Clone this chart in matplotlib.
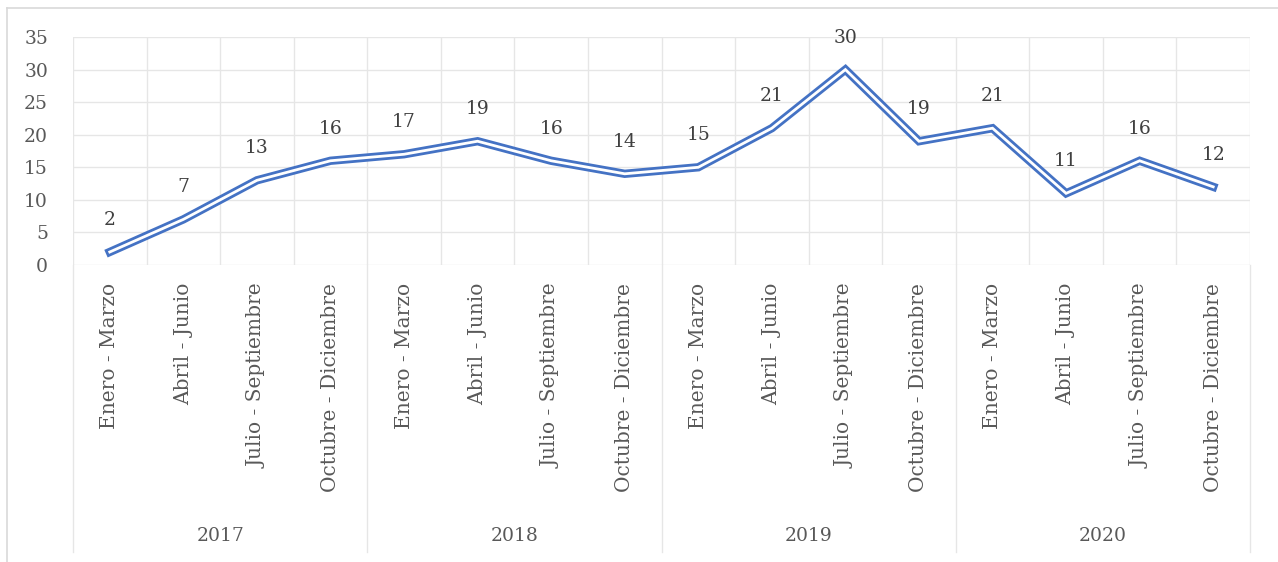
import matplotlib
matplotlib.use("Agg")
import matplotlib.pyplot as plt
from matplotlib.lines import Line2D

quarters = ["Enero - Marzo", "Abril - Junio", "Julio - Septiembre", "Octubre - Diciembre"]
years = ["2017", "2018", "2019", "2020"]
values = [2, 7, 13, 16, 17, 19, 16, 14, 15, 21, 30, 19, 21, 11, 16, 12]

W, H = 1278, 562
fig = plt.figure(figsize=(W / 100, H / 100), dpi=100)
plt.rcParams['font.family'] = ['DejaVu Serif']
FS = 13.5
FSC = 14.5

L, R, T, B = 73, 1250, 37, 265
ax = fig.add_axes([L / W, 1 - B / H, (R - L) / W, (B - T) / H])

n = len(values)
x = list(range(n))
ax.set_xlim(-0.5, n - 0.5)
ax.set_ylim(0, 35)

grid_c = "#e6e6e6"
for yv in range(0, 40, 5):
    ax.axhline(yv, color=grid_c, lw=1.0, zorder=0)
for i in range(n + 1):
    ax.axvline(i - 0.5, color=grid_c, lw=1.0, zorder=0)

for s in ax.spines.values():
    s.set_visible(False)

ax.set_yticks(range(0, 40, 5))
ax.tick_params(axis='y', length=0, labelsize=FS, labelcolor="#595959", pad=18)
ax.set_xticks([])

blue = "#4472C4"
ax.plot(x, values, color=blue, lw=6.0, solid_joinstyle='miter', zorder=3)
ax.plot(x, values, color="white", lw=2.0, solid_joinstyle='miter', zorder=4)

for xi, v in zip(x, values):
    ax.annotate(str(v), (xi, v), xytext=(0, 23), textcoords='offset points',
                ha='center', va='center', fontsize=FS, color="#404040", zorder=5)

# category labels
trans = ax.get_xaxis_transform()
for i in range(n):
    ax.text(i, 1 - (283 - T) / (B - T), quarters[i % 4], transform=trans,
            rotation=90, ha='center', va='top', fontsize=FSC, color="#595959")

# year labels and separators
for k, yr in enumerate(years):
    cx = 4 * k + 1.5
    ax.text(cx, 1 - (536 - T) / (B - T), yr, transform=trans,
            ha='center', va='center', fontsize=FS, color="#595959")
for k in range(len(years) + 1):
    xs = 4 * k - 0.5
    ax.plot([xs, xs], [0, 1 - (552 - T) / (B - T)], transform=trans,
            color=grid_c, lw=1.0, clip_on=False, zorder=0)

# outer chart border (top and left visible)
fig.add_artist(Line2D([7 / W, 1.0], [1 - 8 / H, 1 - 8 / H], transform=fig.transFigure,
                      color="#d9d9d9", lw=1.2))
fig.add_artist(Line2D([7 / W, 7 / W], [1 - 8 / H, 0], transform=fig.transFigure,
                      color="#d9d9d9", lw=1.2))

fig.savefig("out.png", dpi=100)
